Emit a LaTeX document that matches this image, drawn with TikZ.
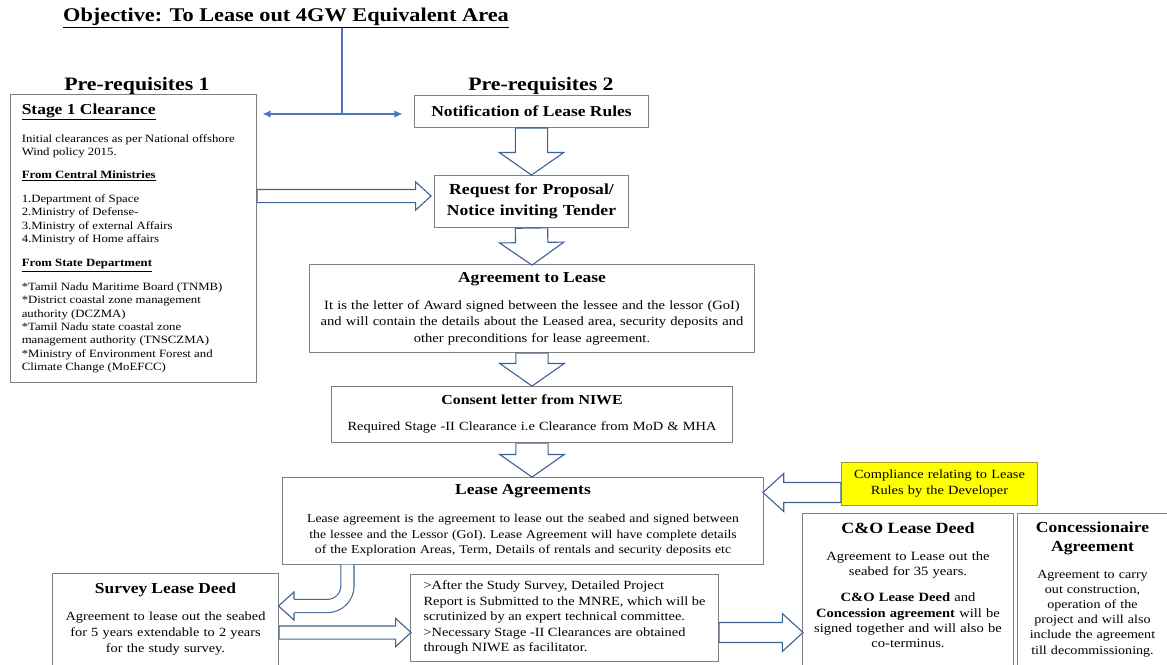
\documentclass[tikz,border=0pt]{standalone}
\usepackage{fontspec}
\setmainfont{Liberation Serif}[FakeStretch=1.15]
\usetikzlibrary{calc,arrows.meta,shapes.arrows}

\definecolor{linkblue}{HTML}{4A76C0}
\definecolor{arrowblue}{HTML}{3F6494}
\definecolor{boxgrey}{HTML}{808080}
\definecolor{lemon}{HTML}{FFFF00}
\definecolor{lemonrim}{HTML}{A89A1A}

% hollow block arrow from #2 to #3
\newcommand\fatarrow[3][fatdown]{%
  \path let \p1=(#2), \p2=(#3), \n1={veclen(\x2-\x1,\y2-\y1)} in
    (\p1) -- node[#1,sloped,allow upside down,pos=0,anchor=tail,minimum height=\n1] {} (\p2);}

\begin{document}
\begin{tikzpicture}[x=0.025cm,y=-0.025cm,
  box/.style={draw=boxgrey,line width=0.7pt,fill=white,inner sep=0pt,align=center},
  fat/.style={single arrow,draw=arrowblue,line width=0.8pt,fill=white,inner xsep=0pt},
  fatdown/.style={fat,inner ysep=0.39cm,single arrow head extend=0.4cm,single arrow tip angle=110},
  fatmid/.style={fat,inner ysep=0.235cm,single arrow head extend=0.225cm,single arrow tip angle=85},
  fatthin/.style={fat,inner ysep=0.15cm,single arrow head extend=0.19cm,single arrow tip angle=85},
  link/.style={draw=linkblue,line width=0.8pt},
  linktip/.style={link,-{Latex[length=0.2cm,width=0.18cm]}},
  bentshaft/.style={draw=arrowblue,line width=0.8pt,double=white,double distance=0.3cm}]
\useasboundingbox (0,0) rectangle (1167,665);
\clip (0,0) rectangle (1167,665);

%%% HEADINGS %%%
\node[inner sep=0pt,font=\bfseries\fontsize{13.8}{16}\selectfont] (title) at (286,18)
  {\underline{Objective: To Lease out 4GW Equivalent Area}};
\node[inner sep=0pt,font=\bfseries\fontsize{13.5}{16}\selectfont] (pre1) at (137,86) {Pre-requisites 1};
\node[inner sep=0pt,font=\bfseries\fontsize{13.5}{16}\selectfont] (pre2) at (541,86) {Pre-requisites 2};

%%% BOXES %%%
\node[box,minimum width=6.125cm,minimum height=7.175cm] (stage1) at (133.5,238.5) {};
\node[anchor=north west,align=left,inner sep=0pt,font=\fontsize{7.9}{9.46}\selectfont] (stage1txt)
  at ($(stage1.north west)+(11,9)$)
  {{\bfseries\fontsize{10.8}{12}\selectfont\underline{Stage 1 Clearance}}\\[9pt]
   Initial clearances as per National offshore\\
   Wind policy 2015.\\[6.9pt]
   \textbf{\underline{From Central Ministries}}\\[7.6pt]
   1.Department of Space\\
   2.Ministry of Defense-\\
   3.Ministry of external Affairs\\
   4.Ministry of Home affairs\\[7.6pt]
   \textbf{\underline{From State Department}}\\[7.6pt]
   *Tamil Nadu Maritime Board (TNMB)\\
   *District coastal zone management\\
   authority (DCZMA)\\
   *Tamil Nadu state coastal zone\\
   management authority (TNSCZMA)\\
   *Ministry of Environment Forest and\\
   Climate Change (MoEFCC)};

\node[box,minimum width=5.825cm,minimum height=0.8cm,font=\bfseries\fontsize{10.8}{12}\selectfont]
  (notif) at (531.5,111) {Notification of Lease Rules};
\node[box,minimum width=4.825cm,minimum height=1.3cm,text width=4.625cm,
  font=\bfseries\fontsize{10.9}{15}\selectfont] (req) at (531.5,201)
  {Request for Proposal/\\Notice inviting Tender};
\node[box,minimum width=11.1cm,minimum height=2.175cm,text width=11cm,
  font=\fontsize{9}{11.7}\selectfont] (agree) at (532,308.5)
  {{\bfseries\fontsize{10.8}{12}\selectfont Agreement to Lease}\\[7.5pt]
   It is the letter of Award signed between the lessee and the lessor (GoI)\\
   and will contain the details about the Leased area, security deposits and\\
   other preconditions for lease agreement.};
\node[box,minimum width=10cm,minimum height=1.4cm,text width=9.8cm,
  font=\fontsize{8.9}{11.4}\selectfont] (cons) at (532,414)
  {{\bfseries\fontsize{9.8}{11}\selectfont Consent letter from NIWE}\\[7.1pt]
   Required Stage -II Clearance i.e Clearance from MoD \& MHA};
\node[box,minimum width=12cm,minimum height=2.175cm,text width=11.9cm,
  font=\fontsize{8.5}{11}\selectfont] (lease) at (523,520.5)
  {{\bfseries\fontsize{10.8}{12}\selectfont Lease Agreements}\\[8.9pt]
   Lease agreement is the agreement to lease out the seabed and signed between\\
   the lessee and the Lessor (GoI). Lease Agreement will have complete details\\
   of the Exploration Areas, Term, Details of rentals and security deposits etc};
\node[box,draw=lemonrim,fill=lemon,minimum width=4.875cm,minimum height=1.075cm,text width=4.625cm,
  font=\fontsize{8.9}{10.7}\selectfont] (compl) at (939.5,483.5)
  {Compliance relating to Lease\\Rules by the Developer};

\node[box,minimum width=5.625cm,minimum height=2.65cm] (surv) at (165.5,627) {};
\node[anchor=north,align=center,text width=5.375cm,inner sep=0pt,font=\fontsize{8.9}{11.4}\selectfont]
  (survtxt) at ($(surv.north)+(0,9)$)
  {{\bfseries\fontsize{10.8}{12}\selectfont Survey Lease Deed}\\[7.8pt]
   Agreement to lease out the seabed\\
   for 5 years extendable to 2 years\\
   for the study survey.};
\node[box,align=left,minimum width=7.675cm,minimum height=2.175cm,
  font=\fontsize{8.9}{11}\selectfont] (study) at (564.5,617.5)
  {>After the Study Survey, Detailed Project\\
   Report is Submitted to the MNRE, which will be\\
   scrutinized by an expert technical committee.\\
   >Necessary Stage -II Clearances are obtained\\
   through NIWE as facilitator.};

\node[box,minimum width=5.25cm,minimum height=4.15cm] (cno) at (908,597) {};
\node[anchor=north,align=center,text width=5cm,inner sep=0pt,font=\fontsize{9}{10.9}\selectfont]
  (cnotxt) at ($(cno.north)+(0,9)$)
  {{\bfseries\fontsize{11.1}{13}\selectfont C\&O Lease Deed}\\[8.3pt]
   Agreement to Lease out the\\
   seabed for 35 years.\\[7.6pt]
   \textbf{C\&O Lease Deed} and\\
   \textbf{Concession agreement} will be\\
   signed together and will also be\\
   co-terminus.};
\node[box,minimum width=3.725cm,minimum height=4.15cm] (conc) at (1092.5,597) {};
\node[anchor=north,align=center,text width=3.6cm,inner sep=0pt,font=\fontsize{8.7}{10.8}\selectfont]
  (conctxt) at ($(conc.north)+(0,8)$)
  {{\bfseries\fontsize{10.9}{13}\selectfont Concessionaire\\[2.6pt]Agreement}\\[8.3pt]
   Agreement to carry\\
   out construction,\\
   operation of the\\
   project and will also\\
   include the agreement\\
   till decommissioning.};

%%% CONNECTORS %%%
\coordinate (fork) at (342,114);
\draw[link] (title.south -| fork) -- (fork);
\draw[linktip] (fork) -- ($(fork -| stage1.east)+(6,0)$);
\draw[linktip] (fork) -- ($(fork -| notif.west)+(-12,0)$);

\fatarrow{notif.south}{req.north}
\fatarrow{req.south}{agree.north}
\fatarrow{agree.south}{cons.north}
\fatarrow{cons.south}{cons.south |- lease.north}
\fatarrow[fatthin]{$(stage1.east |- req.west)+(0,-5)$}{$(req.west)+(-4,-5)$}
\fatarrow[fatmid]{$(compl.west)+(0,9)$}{$(compl.west -| lease.east)+(0,9)$}
\fatarrow[fatthin]{$(surv.east |- study.west)+(0,15)$}{$(study.west)+(0,15)$}
\fatarrow[fatmid]{$(study.east)+(0,15)$}{$(study.east -| cno.west)+(0,15)$}

\coordinate (bendend) at (294,606);
\draw[bentshaft,rounded corners=0.5cm] ($(lease.south west)+(65,0)$) |- (bendend);
\filldraw[draw=arrowblue,line width=0.8pt,fill=white]
  ($(bendend)+(0,-7)$) -- ($(bendend)+(0,-14)$) -- (bendend -| surv.east)
  -- ($(bendend)+(0,14)$) -- ($(bendend)+(0,7)$);
\end{tikzpicture}
\end{document}
